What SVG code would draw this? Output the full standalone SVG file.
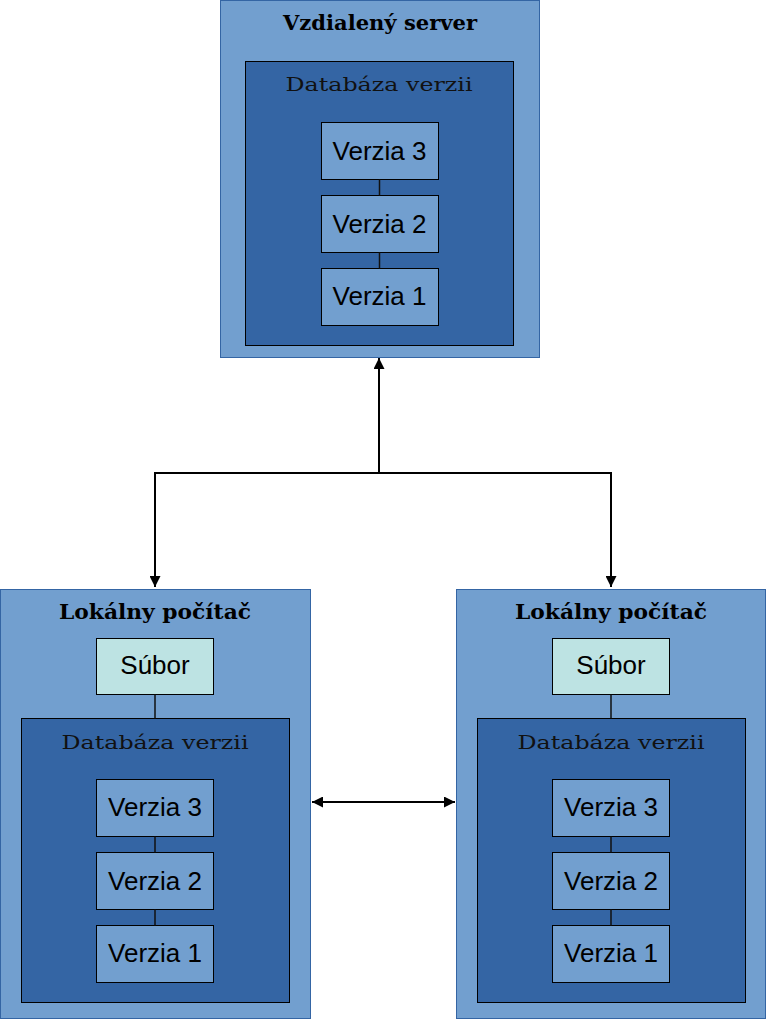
<svg xmlns="http://www.w3.org/2000/svg" width="766" height="1019" viewBox="0 0 766 1019">
<defs>
<style>
.outer{fill:#729fcf;stroke:#3465a4;stroke-width:1}
.db{fill:#3465a4;stroke:#000;stroke-width:1}
.ver{fill:#729fcf;stroke:#000;stroke-width:1}
.file{fill:#bde3e3;stroke:#000;stroke-width:1}
.title{font-family:"DejaVu Serif",serif;font-weight:bold;font-size:20px;fill:#000;text-anchor:middle}
.dbt{font-family:"DejaVu Serif",serif;font-size:19px;fill:#111;text-anchor:middle}
.vt{font-family:"Liberation Sans",Arial,sans-serif;font-size:26px;fill:#000;text-anchor:middle}
.ln{stroke:#000;stroke-width:2;fill:none}
.thin{stroke:#111;stroke-width:1.5;fill:none}
</style>
<marker id="ah2" viewBox="0 0 10 10" refX="10" refY="5" markerWidth="15" markerHeight="11" markerUnits="userSpaceOnUse" orient="auto-start-reverse">
<path d="M0,0 L10,5 L0,10 z" fill="#000"/>
</marker>
</defs>

<g id="server">
<rect class="outer" x="220.5" y="0.5" width="319" height="357"/>
<text class="title" x="380" y="30" textLength="194" lengthAdjust="spacingAndGlyphs">Vzdialený server</text>
<rect class="db" x="245.5" y="61.5" width="268" height="284"/>
<text class="dbt" x="379" y="91" textLength="187" lengthAdjust="spacingAndGlyphs">Databáza verzii</text>
</g>
<g id="server-v3"><rect class="ver" x="321.5" y="122.5" width="117" height="57"/><text class="vt" x="379.5" y="160">Verzia 3</text></g>
<g id="server-v2"><rect class="ver" x="321.5" y="195.5" width="117" height="57"/><text class="vt" x="379.5" y="233">Verzia 2</text></g>
<g id="server-v1"><rect class="ver" x="321.5" y="268.5" width="117" height="57"/><text class="vt" x="379.5" y="305">Verzia 1</text></g>

<g id="local1">
<rect class="outer" x="0.5" y="589.5" width="310" height="429"/>
<text class="title" x="155" y="619" textLength="192" lengthAdjust="spacingAndGlyphs">Lokálny počítač</text>
<rect class="db" x="21.5" y="718.5" width="268" height="284"/>
<text class="dbt" x="155" y="749" textLength="187" lengthAdjust="spacingAndGlyphs">Databáza verzii</text>
</g>
<g id="local1-file"><rect class="file" x="96.5" y="638.5" width="117" height="56"/><text class="vt" x="155" y="674">Súbor</text></g>
<g id="local1-v3"><rect class="ver" x="96.5" y="779.5" width="117" height="57"/><text class="vt" x="155" y="816">Verzia 3</text></g>
<g id="local1-v2"><rect class="ver" x="96.5" y="852.5" width="117" height="57"/><text class="vt" x="155" y="890">Verzia 2</text></g>
<g id="local1-v1"><rect class="ver" x="96.5" y="925.5" width="117" height="57"/><text class="vt" x="155" y="962">Verzia 1</text></g>

<g id="local2">
<rect class="outer" x="456.5" y="589.5" width="309" height="429"/>
<text class="title" x="611" y="619" textLength="192" lengthAdjust="spacingAndGlyphs">Lokálny počítač</text>
<rect class="db" x="477.5" y="718.5" width="268" height="284"/>
<text class="dbt" x="611" y="749" textLength="187" lengthAdjust="spacingAndGlyphs">Databáza verzii</text>
</g>
<g id="local2-file"><rect class="file" x="552.5" y="638.5" width="117" height="56"/><text class="vt" x="611" y="674">Súbor</text></g>
<g id="local2-v3"><rect class="ver" x="552.5" y="779.5" width="117" height="57"/><text class="vt" x="611" y="816">Verzia 3</text></g>
<g id="local2-v2"><rect class="ver" x="552.5" y="852.5" width="117" height="57"/><text class="vt" x="611" y="890">Verzia 2</text></g>
<g id="local2-v1"><rect class="ver" x="552.5" y="925.5" width="117" height="57"/><text class="vt" x="611" y="962">Verzia 1</text></g>

<g id="connectors">
<line class="thin" x1="379.5" y1="179.5" x2="379.5" y2="195.5"/>
<line class="thin" x1="379.5" y1="252.5" x2="379.5" y2="268.5"/>
<line class="thin" x1="155" y1="694.5" x2="155" y2="718.5"/>
<line class="thin" x1="155" y1="836.5" x2="155" y2="852.5"/>
<line class="thin" x1="155" y1="909.5" x2="155" y2="925.5"/>
<line class="thin" x1="611" y1="694.5" x2="611" y2="718.5"/>
<line class="thin" x1="611" y1="836.5" x2="611" y2="852.5"/>
<line class="thin" x1="611" y1="909.5" x2="611" y2="925.5"/>
<line class="ln" x1="379" y1="473" x2="379" y2="358" marker-end="url(#ah2)"/>
<polyline class="ln" points="379,473 155,473 155,587" marker-end="url(#ah2)"/>
<polyline class="ln" points="379,473 611,473 611,587" marker-end="url(#ah2)"/>
<line class="ln" x1="312" y1="802" x2="455" y2="802" marker-start="url(#ah2)" marker-end="url(#ah2)"/>
</g>
</svg>
